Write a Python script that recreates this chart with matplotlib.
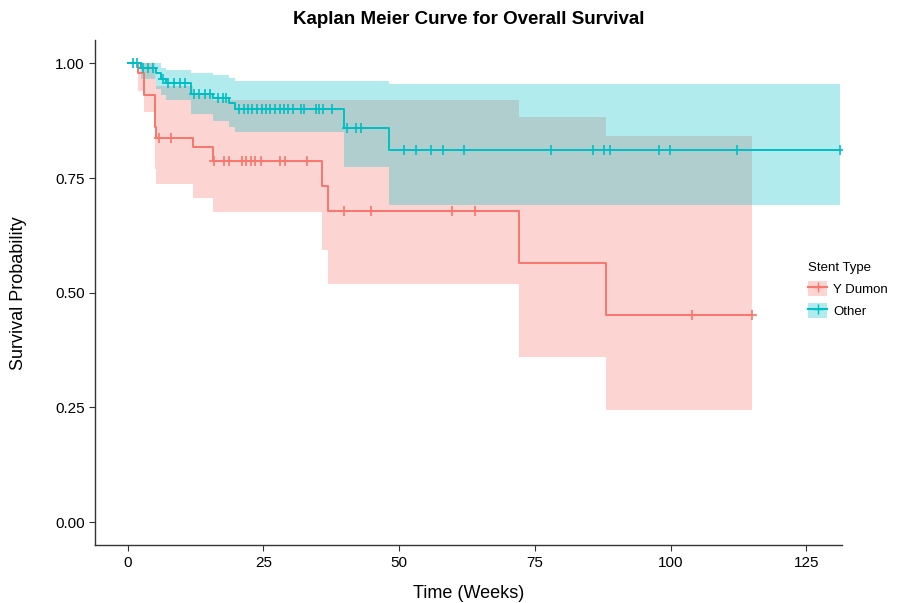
import numpy as np
import matplotlib
matplotlib.use("Agg")
import matplotlib.pyplot as plt
from matplotlib.lines import Line2D
from matplotlib.patches import Patch

plt.rcParams['font.family'] = ['Liberation Sans', 'DejaVu Sans']

# Y Dumon: step times, survival, confidence band
dumon_t = [0, 2.0, 3.0, 5.0, 5.3, 12.0, 15.8, 35.8, 36.9, 72.0, 88.1, 115.0]
dumon_s = [1.0, 0.980, 0.932, 0.862, 0.838, 0.817, 0.788, 0.732, 0.678, 0.565, 0.451, 0.451]
dumon_lo = [1.0, 0.940, 0.895, 0.769, 0.736, 0.707, 0.677, 0.594, 0.520, 0.360, 0.245, 0.245]
dumon_hi = [1.0, 1.0, 1.0, 0.965, 0.950, 0.935, 0.921, 0.921, 0.921, 0.882, 0.841, 0.841]
dumon_cens = [5.8, 7.9, 16.0, 17.8, 18.6, 21.0, 21.8, 22.7, 23.5, 24.5, 28.0, 29.0,
              33.0, 39.9, 44.9, 59.8, 63.9, 104.0, 115.0]

# Other: step times, survival, confidence band
other_t = [0, 2.5, 5.2, 6.2, 7.0, 11.7, 15.7, 18.6, 19.7, 39.9, 48.2, 131.2]
other_s = [1.0, 0.990, 0.978, 0.966, 0.958, 0.934, 0.925, 0.913, 0.901, 0.859, 0.812, 0.812]
other_lo = [1.0, 0.965, 0.945, 0.930, 0.920, 0.889, 0.875, 0.862, 0.850, 0.773, 0.692, 0.692]
other_hi = [1.0, 1.0, 1.0, 0.990, 0.985, 0.980, 0.975, 0.968, 0.961, 0.961, 0.954, 0.954]
other_cens = [1.0, 1.8, 2.8, 3.8, 4.6, 6.5, 7.5, 8.6, 9.6, 10.5, 12.3, 13.2, 14.2, 15.1,
              16.6, 17.5, 18.2, 20.6, 21.4, 22.2, 23.0, 23.9, 24.7, 25.5, 26.3, 27.1,
              28.0, 28.8, 29.6, 30.4, 31.9, 32.5, 34.7, 35.3, 35.9, 37.7, 40.4, 42.0,
              43.0, 50.9, 53.1, 55.8, 58.0, 62.0, 77.9, 85.8, 87.7, 88.9, 97.8, 99.9,
              112.2, 131.2]

red = '#F8766D'
teal = '#00BFC4'

fig = plt.figure(figsize=(9.05, 6.03), dpi=100)
ax = fig.add_axes([0.105, 0.096, 0.825, 0.837])


def draw_curve(t, s, lo, hi, cens, color):
    ax.fill_between(t, lo, hi, step='post', color=color, alpha=0.3, lw=0)
    ax.step(t, s, where='post', color=color, lw=1.4)
    idx = np.searchsorted(t, cens, side='right') - 1
    ax.plot(cens, np.array(s)[idx], ls='none', marker='+', color=color,
            markersize=7, mew=1.2)


draw_curve(dumon_t, dumon_s, dumon_lo, dumon_hi, dumon_cens, red)
draw_curve(other_t, other_s, other_lo, other_hi, other_cens, teal)

ax.set_xlim(-6, 131.5)
ax.set_ylim(-0.05, 1.05)
ax.set_xticks([0, 25, 50, 75, 100, 125])
ax.set_yticks([0, 0.25, 0.5, 0.75, 1.0])
ax.set_yticklabels(['0.00', '0.25', '0.50', '0.75', '1.00'])
for sp in ['top', 'right']:
    ax.spines[sp].set_visible(False)
for sp in ['left', 'bottom']:
    ax.spines[sp].set_color('#333333')
    ax.spines[sp].set_linewidth(1.0)
ax.tick_params(colors='#333333', labelcolor='black', labelsize=11, length=4)

ax.set_xlabel('Time (Weeks)', fontsize=13, labelpad=11)
ax.set_ylabel('Survival Probability', fontsize=13, labelpad=20)
ax.set_title('Kaplan Meier Curve for Overall Survival', fontsize=13.5,
             fontweight='bold', pad=12)

handles = [
    (Patch(facecolor=red, alpha=0.3, lw=0), Line2D([], [], color=red, marker='+', markersize=7)),
    (Patch(facecolor=teal, alpha=0.3, lw=0), Line2D([], [], color=teal, marker='+', markersize=7)),
]
fig.legend(handles, ['Y Dumon', 'Other'], title='Stent Type', loc='upper left',
           bbox_to_anchor=(0.88, 0.585), frameon=False, fontsize=9.5,
           title_fontsize=9.5, handlelength=1.4, handleheight=1.4,
           handletextpad=0.5, labelspacing=0.5, alignment='left')

fig.savefig('out.png', dpi=100)
